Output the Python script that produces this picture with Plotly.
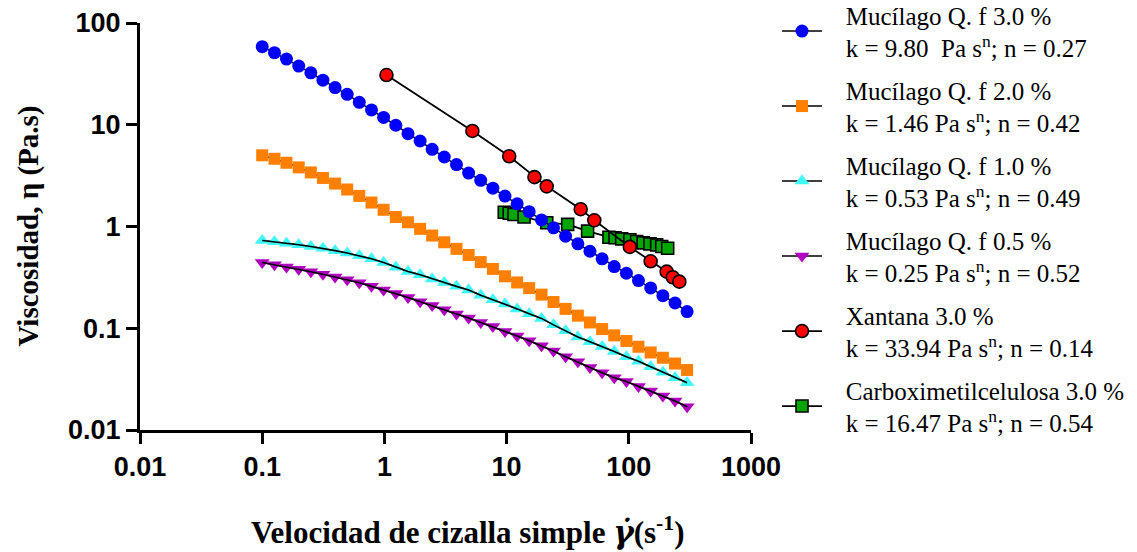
import plotly.graph_objects as go

# Shear rate (s^-1) for the four mucilage series
shear_rate = [0.1, 0.126, 0.158, 0.199, 0.250, 0.314, 0.395, 0.496, 0.623, 0.784,
              0.985, 1.24, 1.56, 1.96, 2.46, 3.09, 3.89, 4.89, 6.14, 7.72,
              9.70, 12.2, 15.3, 19.3, 24.2, 30.4, 38.3, 48.1, 60.5, 76.0,
              95.6, 120, 151, 190, 239, 300]

visc_muc_30 = [58.5, 51.1, 44.2, 37.7, 32.4, 27.4, 23.2, 19.9, 16.6, 14.0,
               11.8, 9.89, 8.18, 6.92, 5.74, 4.82, 4.06, 3.35, 2.84, 2.38,
               1.99, 1.67, 1.40, 1.16, 0.970, 0.802, 0.676, 0.571, 0.481, 0.404,
               0.347, 0.294, 0.249, 0.209, 0.177, 0.146]

visc_muc_20 = [5.01, 4.63, 4.23, 3.81, 3.40, 3.00, 2.64, 2.31, 2.00, 1.72,
               1.46, 1.24, 1.10, 0.948, 0.815, 0.700, 0.603, 0.525, 0.447, 0.383,
               0.324, 0.282, 0.248, 0.214, 0.181, 0.155, 0.133, 0.114, 0.0982, 0.0851,
               0.0750, 0.0658, 0.0578, 0.0513, 0.0450, 0.0389]

visc_muc_10 = [0.728, 0.708, 0.685, 0.662, 0.637, 0.610, 0.579, 0.548, 0.516, 0.481,
               0.442, 0.398, 0.361, 0.335, 0.305, 0.282, 0.258, 0.238, 0.211, 0.191,
               0.173, 0.155, 0.139, 0.125, 0.108, 0.0944, 0.0822, 0.0736, 0.0661, 0.0590,
               0.0524, 0.0473, 0.0418, 0.0369, 0.0327, 0.0292]

visc_muc_05 = [0.442, 0.421, 0.400, 0.379, 0.359, 0.339, 0.319, 0.299, 0.280, 0.258,
               0.238, 0.220, 0.201, 0.182, 0.167, 0.152, 0.138, 0.126, 0.114, 0.104,
               0.0927, 0.0838, 0.0753, 0.0673, 0.0596, 0.0525, 0.0468, 0.0412, 0.0366, 0.0327,
               0.0299, 0.0267, 0.0242, 0.0216, 0.0193, 0.0169]

xan_rate = [1.04, 5.25, 10.5, 16.9, 21.3, 40.4, 52.2, 102, 151, 204, 229, 259]
xan_visc = [30.8, 8.69, 4.9, 3.06, 2.48, 1.48, 1.15, 0.63, 0.455, 0.36, 0.317, 0.287]

cmc_rate = [9.57, 10.5, 11.5, 13.9, 21.3, 31.6, 46.0, 68.8, 77.1, 87.4,
            102, 116, 131, 149, 169, 186, 208]
cmc_visc = [1.38, 1.35, 1.31, 1.24, 1.09, 1.05, 0.90, 0.785, 0.774, 0.756,
            0.74, 0.711, 0.69, 0.675, 0.66, 0.635, 0.611]

PAD = "\u00a0\u00a0\u00a0"
names = [
    PAD + "Mucílago Q. f 3.0 %<br>" + PAD + "k = 9.80 \u00a0Pa s<sup>n</sup>; n = 0.27",
    PAD + "Mucílago Q. f 2.0 %<br>" + PAD + "k = 1.46 Pa s<sup>n</sup>; n = 0.42",
    PAD + "Mucílago Q. f 1.0 %<br>" + PAD + "k = 0.53 Pa s<sup>n</sup>; n = 0.49",
    PAD + "Mucílago Q. f 0.5 %<br>" + PAD + "k = 0.25 Pa s<sup>n</sup>; n = 0.52",
    PAD + "Xantana 3.0 %<br>" + PAD + "k = 33.94 Pa s<sup>n</sup>; n = 0.14",
    PAD + "Carboximetilcelulosa 3.0 %<br>" + PAD + "k = 16.47 Pa s<sup>n</sup>; n = 0.54",
]

x_ticks = [0.01, 0.1, 1, 10, 100, 1000]
x_tick_text = ["0.01", "0.1", "1", "10", "100", "1000"]
y_ticks = [0.01, 0.1, 1, 10, 100]
y_tick_text = ["0.01", "0.1", "1", "10", "100"]

fig = go.Figure()

# drawing order: CMC, Xantana at bottom; legend order via legendrank
fig.add_trace(go.Scatter(
    x=cmc_rate, y=cmc_visc, mode="lines+markers", name=names[5], legendrank=6,
    legendgroup="g6",
    line=dict(color="black", width=1.8),
    marker=dict(symbol="square", size=12, color="#00A600",
                line=dict(color="black", width=1.6))))
fig.add_trace(go.Scatter(
    x=xan_rate, y=xan_visc, mode="lines+markers", name=names[4], legendrank=5,
    legendgroup="g5",
    line=dict(color="black", width=1.8),
    marker=dict(symbol="circle", size=13, color="#FF0000",
                line=dict(color="black", width=1.6))))
fig.add_trace(go.Scatter(
    x=shear_rate, y=visc_muc_05, mode="lines+markers", name=names[3], legendrank=4,
    legendgroup="g4",
    line=dict(color="black", width=1.5),
    marker=dict(symbol="triangle-down", size=13, color="#B000C0", line=dict(width=0))))
fig.add_trace(go.Scatter(
    x=shear_rate, y=visc_muc_05, mode="lines", showlegend=False, legendgroup="g4",
    line=dict(color="black", width=1.6), hoverinfo="skip"))
fig.add_trace(go.Scatter(
    x=shear_rate, y=visc_muc_10, mode="lines+markers", name=names[2], legendrank=3,
    legendgroup="g3",
    line=dict(color="black", width=1.5),
    marker=dict(symbol="triangle-up", size=13, color="#3FF8F8", line=dict(width=0))))
fig.add_trace(go.Scatter(
    x=shear_rate, y=visc_muc_10, mode="lines", showlegend=False, legendgroup="g3",
    line=dict(color="black", width=1.6), hoverinfo="skip"))
fig.add_trace(go.Scatter(
    x=shear_rate, y=visc_muc_20, mode="lines+markers", name=names[1], legendrank=2,
    legendgroup="g2",
    line=dict(color="black", width=1.5),
    marker=dict(symbol="square", size=12, color="#FF8000", line=dict(width=0))))
fig.add_trace(go.Scatter(
    x=shear_rate, y=visc_muc_30, mode="lines+markers", name=names[0], legendrank=1,
    legendgroup="g1",
    line=dict(color="black", width=1.5),
    marker=dict(symbol="circle", size=13, color="#0000FF", line=dict(width=0))))

axis_common = dict(
    type="log", showline=True, linewidth=3, linecolor="black", mirror=False,
    ticks="outside", ticklen=11, tickwidth=3, tickcolor="black",
    showgrid=False, zeroline=False,
    tickfont=dict(family="Liberation Sans", size=27, color="black", weight="bold"),
)

fig.update_layout(
    width=1137, height=552,
    paper_bgcolor="white", plot_bgcolor="white",
    margin=dict(l=140, r=386, t=23, b=122, autoexpand=False),
    xaxis=dict(range=[-2, 3], tickvals=x_ticks, ticktext=x_tick_text, **axis_common),
    yaxis=dict(range=[-2, 2], tickvals=y_ticks, ticktext=y_tick_text, **axis_common),
    showlegend=True,
    legend=dict(
        xref="container", yref="paper",
        x=777 / 1137, xanchor="left", y=1.076, yanchor="top",
        font=dict(family="Liberation Serif", size=25, color="black"),
        tracegroupgap=7, itemwidth=40, bgcolor="rgba(0,0,0,0)",
        traceorder="grouped", maxheight=600,
    ),
    annotations=[
        dict(text="<b>Velocidad de cizalla simple <i><span style=\"font-family:'DejaVu Serif'\">γ̇</span></i>(s<sup>-1</sup>)</b>",
             xref="paper", yref="paper", x=(468 - 140) / 611, y=(430 - 530) / 407,
             xanchor="center", yanchor="middle", showarrow=False,
             font=dict(family="Liberation Serif", size=31, color="black")),
        dict(text="<b>Viscosidad, η (Pa.s)</b>",
             xref="paper", yref="paper", x=(28 - 140) / 611, y=0.5,
             xanchor="center", yanchor="middle", showarrow=False, textangle=-90,
             font=dict(family="Liberation Serif", size=29, color="black")),
    ],
)

fig.write_html("out.html")
